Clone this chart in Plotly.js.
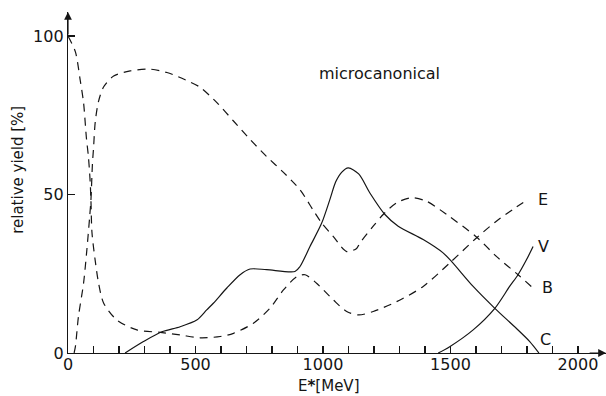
<!DOCTYPE html>
<html>
<head>
<meta charset="utf-8">
<script src="https://cdn.plot.ly/plotly-3.0.1.min.js"></script>
<style>html,body{margin:0;padding:0;background:#fff;}#chart{width:606px;height:396px;}</style>
</head>
<body>
<div id="chart"></div>
<script>
// Curve E (dashed, starts at 100 %)
const eX = [0, 29, 48, 61, 72, 80, 87, 90, 94, 107, 120, 140, 192, 270, 362, 440, 518, 597, 649, 727, 792, 845, 897, 930, 975, 1040, 1093, 1140, 1197, 1289, 1393, 1497, 1602, 1680, 1745, 1800];
const eY = [100, 95, 86, 79, 68, 62, 54, 48, 38, 29, 22, 15.7, 10.4, 7.3, 6.5, 5.7, 4.8, 5.2, 6.2, 9.4, 14.1, 19.9, 24.1, 24.7, 22, 16.8, 13.1, 12, 13.1, 16.2, 21, 28.4, 36.3, 41.6, 45.3, 48.3];
// Curve B (dashed, rises to ~89 %)
const bX = [24, 29, 41, 61, 74, 85, 90, 96, 100, 107, 120, 140, 179, 244, 316, 388, 479, 519, 584, 649, 714, 779, 845, 910, 962, 995, 1040, 1093, 1132, 1145, 1197, 1236, 1289, 1347, 1406, 1485, 1602, 1680, 1765, 1817];
const bY = [0, 2, 11.5, 22, 32.6, 43, 48.4, 60, 64.5, 73, 79.5, 84, 87.4, 89, 89.6, 88.5, 85.5, 83.8, 79, 73.2, 67.4, 62, 57, 51.5, 45, 41, 36.8, 32, 33, 34.7, 40, 43.7, 47.4, 49, 47.9, 43.7, 36.6, 30.5, 24.7, 21];
// Curve C (solid)
const cX = [224, 296, 368, 440, 505, 544, 570, 623, 675, 714, 779, 890, 910, 949, 995, 1027, 1050, 1073, 1099, 1140, 1184, 1243, 1295, 1393, 1471, 1504, 1589, 1674, 1758, 1811, 1847];
const cY = [0, 3.6, 6.7, 8.3, 10.4, 13.6, 15.7, 20.5, 24.7, 26.5, 26.3, 25.7, 27.3, 33.6, 41, 48.4, 54, 57, 58.4, 56.5, 50.5, 43.7, 40, 35.8, 31.6, 28.9, 21, 14.1, 7.8, 3.6, 0];
// Curve V (solid)
const vX = [1452, 1497, 1589, 1674, 1732, 1765, 1798, 1824];
const vY = [0, 2, 7.3, 14.1, 21, 24.7, 29.4, 33.6];

const xTickVals = [0,100,200,300,400,500,600,700,800,900,1000,1100,1200,1300,1400,1500,1600,1700,1800,1900,2000];
const xTickText = ["0","","","","","500","","","","","1000","","","","","1500","","","","","2000"];
const yTickVals = [0, 50, 100];
const yTickText = ["0", "50", "100"];

const ink = '#151515';
const font = 'DejaVu Sans, Liberation Sans, sans-serif';
const dashLine = {color: ink, width: 1.2, dash: '8px,6px', shape: 'spline', smoothing: 0.8};
const solidLine = {color: ink, width: 1.2, shape: 'spline', smoothing: 0.8};

const traces = [
  {x: eX, y: eY, mode: 'lines', line: dashLine, hoverinfo: 'skip'},
  {x: bX, y: bY, mode: 'lines', line: dashLine, hoverinfo: 'skip'},
  {x: cX, y: cY, mode: 'lines', line: solidLine, hoverinfo: 'skip'},
  {x: vX, y: vY, mode: 'lines', line: solidLine, hoverinfo: 'skip'}
];

const lbl = (t, x, y, anchor) => ({text: t, x: x, y: y, xref: 'x', yref: 'y', xanchor: anchor || 'left', yanchor: 'middle', showarrow: false, font: {family: font, size: 16, color: ink}});

const layout = {
  width: 606, height: 396,
  margin: {l: 68, r: 0, t: 12, b: 43},
  paper_bgcolor: '#fff', plot_bgcolor: '#fff',
  showlegend: false,
  font: {family: font, color: ink},
  xaxis: {
    range: [0, 2110], showgrid: false, zeroline: false, showline: true, linecolor: ink, linewidth: 1.2,
    tickmode: 'array', tickvals: xTickVals, ticktext: xTickText, ticks: 'inside', ticklen: 7, tickwidth: 1.2, tickcolor: ink,
    ticklabelstandoff: -3,
    tickfont: {family: font, size: 16, color: ink}
  },
  yaxis: {
    range: [0, 107.6], showgrid: false, zeroline: false, showline: true, linecolor: ink, linewidth: 1.2,
    tickmode: 'array', tickvals: yTickVals, ticktext: yTickText, ticks: 'inside', ticklen: 7, tickwidth: 1.2, tickcolor: ink,
    tickfont: {family: font, size: 16, color: ink}
  },
  annotations: [
    {x: 2110, y: 0, ax: 2040, ay: 0, xref: 'x', yref: 'y', axref: 'x', ayref: 'y', showarrow: true, arrowhead: 2, arrowsize: 1.3, arrowwidth: 1.2, arrowcolor: ink, text: ''},
    {x: 0, y: 107.6, ax: 0, ay: 100, xref: 'x', yref: 'y', axref: 'x', ayref: 'y', showarrow: true, arrowhead: 2, arrowsize: 1.3, arrowwidth: 1.2, arrowcolor: ink, text: ''},
    lbl('E', 1834, 48.5), lbl('V', 1836, 33.6), lbl('B', 1850, 20.6), lbl('C', 1842, 4.2),
    {text: 'microcanonical', x: 1221, y: 88.3, xref: 'x', yref: 'y', xanchor: 'center', yanchor: 'middle', showarrow: false, font: {family: font, size: 16, color: ink}},
    {text: 'relative yield [%]', x: -0.093, y: 0.537, xref: 'paper', yref: 'paper', xanchor: 'center', yanchor: 'middle', textangle: -90, showarrow: false, font: {family: font, size: 15, color: ink}},
    {text: 'E<b>*</b>[MeV]', x: 0.484, y: -0.097, xref: 'paper', yref: 'paper', xanchor: 'center', yanchor: 'middle', showarrow: false, font: {family: font, size: 15, color: ink}}
  ]
};

Plotly.newPlot('chart', traces, layout, {staticPlot: true, displayModeBar: false});
</script>
</body>
</html>
